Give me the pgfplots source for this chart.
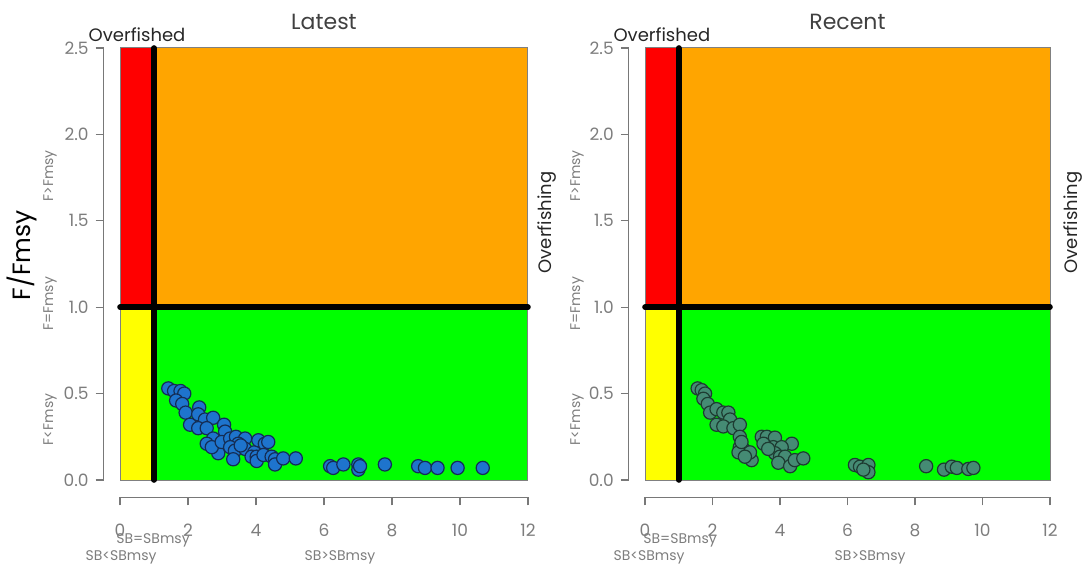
\documentclass[border=0pt]{standalone}
\usepackage{fontspec}
\setmainfont{Poppins}
\usepackage{pgfplots}
\pgfplotsset{compat=1.18}
\definecolor{kred}{RGB}{255,0,0}
\definecolor{korange}{RGB}{255,165,0}
\definecolor{kgreen}{RGB}{0,255,0}
\definecolor{kyellow}{RGB}{255,255,0}
\definecolor{ptblue}{RGB}{30,116,205}
\definecolor{ptblueedge}{RGB}{20,45,85}
\definecolor{ptteal}{RGB}{69,139,116}
\definecolor{pttealedge}{RGB}{30,60,50}
\definecolor{axgray}{RGB}{120,120,120}
\definecolor{labgray}{RGB}{125,125,125}

\pgfplotsset{kobe/.style={
  scale only axis, height=233.3pt,
  xmin=-0.48, xmax=12.48, ymin=-0.1, ymax=2.6,
  axis line style={draw=none},
  xtick={0,2,4,6,8,10,12}, ytick={0,0.5,1,1.5,2,2.5},
  xtick pos=bottom, ytick pos=left,
  tick align=outside, major tick length=4pt,
  tick style={axgray, line width=0.6pt},
  ticklabel style={font=\fontsize{8.5}{9}\selectfont, text=labgray},
  xticklabel style={yshift=-6pt},
  yticklabel style={/pgf/number format/.cd, fixed, fixed zerofill, precision=1},
  /pgf/number format/assume math mode=true,
  clip=false,
}}

\begin{document}
\begin{tikzpicture}
% ---------------- Latest ----------------
\begin{axis}[kobe, width=220.3pt, at={(51.85pt,33.85pt)}, anchor=south west]
\addplot[fill=kred, draw=none] coordinates {(0,1) (1,1) (1,2.5) (0,2.5)} -- cycle;
\addplot[fill=korange, draw=none] coordinates {(1,1) (12,1) (12,2.5) (1,2.5)} -- cycle;
\addplot[fill=kyellow, draw=none] coordinates {(0,0) (1,0) (1,1) (0,1)} -- cycle;
\addplot[fill=kgreen, draw=none] coordinates {(1,0) (12,0) (12,1) (1,1)} -- cycle;
\addplot[draw=gray, line width=0.5pt] coordinates {(0,0) (12,0) (12,2.5) (0,2.5)} -- cycle;
\addplot[black, line width=2.8pt, line cap=round] coordinates {(1,0) (1,2.5)};
\addplot[black, line width=2.8pt, line cap=round] coordinates {(0,1) (12,1)};
\addplot[only marks, mark=*, mark size=3.3pt, mark options={fill=ptblue, draw=ptblueedge, line width=0.6pt}] coordinates {
(1.42,0.53) (1.59,0.515) (1.78,0.515) (1.89,0.50) (1.65,0.46) (1.83,0.44) (1.93,0.39)
(2.33,0.42) (2.30,0.38) (2.50,0.35) (2.74,0.36) (2.06,0.32) (2.30,0.30) (2.55,0.30)
(3.06,0.32) (3.09,0.28) (2.74,0.24) (2.55,0.21) (2.89,0.19) (2.89,0.155) (2.70,0.19)
(2.99,0.22) (3.24,0.24) (3.41,0.25) (3.68,0.24) (3.48,0.21) (3.24,0.19) (3.38,0.17)
(3.33,0.12) (3.68,0.18) (3.55,0.20) (3.95,0.16) (4.07,0.23) (4.26,0.21) (4.36,0.22)
(3.87,0.135) (4.02,0.135) (4.02,0.11) (4.22,0.145) (4.46,0.135) (4.56,0.12) (4.56,0.09)
(4.80,0.125) (5.17,0.125) (6.18,0.08) (6.27,0.07) (6.57,0.09) (7.01,0.09) (7.01,0.06)
(7.06,0.08) (7.79,0.09) (8.77,0.08) (8.97,0.07) (9.34,0.07) (9.93,0.07) (10.67,0.07)
};
\draw[axgray, line width=0.6pt] (axis cs:0,-0.1) -- (axis cs:12,-0.1);
\draw[axgray, line width=0.6pt] (axis cs:-0.48,0) -- (axis cs:-0.48,2.5);
\node[anchor=base, font=\fontsize{11}{12}\selectfont, text=black!75] at (axis cs:6,2.604) {Latest};
\node[anchor=base, font=\fontsize{9}{10}\selectfont, text=black!85] at (axis cs:0.5,2.54) {Overfished};
\node[rotate=90, font=\fontsize{9}{10}\selectfont, text=black!85] at (axis cs:12.56,1.49) {Overfishing};
\node[rotate=90, font=\fontsize{12.5}{13}\selectfont, text=black] at (axis cs:-2.88,1.30) {F/Fmsy};
\node[rotate=90, font=\fontsize{7}{8}\selectfont, text=labgray] at (axis cs:-2.06,1.76) {F>Fmsy};
\node[rotate=90, font=\fontsize{7}{8}\selectfont, text=labgray] at (axis cs:-2.06,1.02) {F=Fmsy};
\node[rotate=90, font=\fontsize{7}{8}\selectfont, text=labgray] at (axis cs:-2.06,0.35) {F<Fmsy};
\node[font=\fontsize{7}{8}\selectfont, text=labgray] at (axis cs:0.97,-0.347) {SB=SBmsy};
\node[font=\fontsize{7}{8}\selectfont, text=labgray] at (axis cs:0.03,-0.446) {SB<SBmsy};
\node[font=\fontsize{7}{8}\selectfont, text=labgray] at (axis cs:6.47,-0.446) {SB>SBmsy};
\end{axis}
% ---------------- Recent ----------------
\begin{axis}[kobe, width=218.7pt, at={(314.4pt,33.85pt)}, anchor=south west]
\addplot[fill=kred, draw=none] coordinates {(0,1) (1,1) (1,2.5) (0,2.5)} -- cycle;
\addplot[fill=korange, draw=none] coordinates {(1,1) (12,1) (12,2.5) (1,2.5)} -- cycle;
\addplot[fill=kyellow, draw=none] coordinates {(0,0) (1,0) (1,1) (0,1)} -- cycle;
\addplot[fill=kgreen, draw=none] coordinates {(1,0) (12,0) (12,1) (1,1)} -- cycle;
\addplot[draw=gray, line width=0.5pt] coordinates {(0,0) (12,0) (12,2.5) (0,2.5)} -- cycle;
\addplot[black, line width=2.8pt, line cap=round] coordinates {(1,0) (1,2.5)};
\addplot[black, line width=2.8pt, line cap=round] coordinates {(0,1) (12,1)};
\addplot[only marks, mark=*, mark size=3.3pt, mark options={fill=ptteal, draw=pttealedge, line width=0.6pt}] coordinates {
(1.56,0.53) (1.68,0.52) (1.78,0.50) (1.73,0.47) (1.86,0.44) (1.93,0.39) (2.12,0.41)
(2.32,0.39) (2.47,0.39) (2.52,0.35) (2.12,0.32) (2.32,0.31) (2.62,0.30) (2.81,0.32)
(2.81,0.25) (2.81,0.19) (2.91,0.18) (3.01,0.145) (3.16,0.115) (3.11,0.16) (2.77,0.16)
(2.96,0.135) (2.86,0.22) (3.46,0.25) (3.61,0.25) (3.85,0.245) (4.35,0.21) (3.51,0.21)
(3.80,0.19) (4.05,0.19) (3.85,0.155) (4.00,0.135) (4.15,0.135) (3.95,0.10) (4.30,0.08)
(4.44,0.115) (4.69,0.125) (3.65,0.18) (6.22,0.087) (6.37,0.077) (6.62,0.087) (6.62,0.045)
(6.47,0.06) (8.33,0.08) (8.86,0.06) (9.09,0.077) (9.24,0.07) (9.58,0.064) (9.73,0.07)
};
\draw[axgray, line width=0.6pt] (axis cs:0,-0.1) -- (axis cs:12,-0.1);
\draw[axgray, line width=0.6pt] (axis cs:-0.48,0) -- (axis cs:-0.48,2.5);
\node[anchor=base, font=\fontsize{11}{12}\selectfont, text=black!75] at (axis cs:6,2.604) {Recent};
\node[anchor=base, font=\fontsize{9}{10}\selectfont, text=black!85] at (axis cs:0.5,2.54) {Overfished};
\node[rotate=90, font=\fontsize{9}{10}\selectfont, text=black!85] at (axis cs:12.68,1.49) {Overfishing};
\node[rotate=90, font=\fontsize{7}{8}\selectfont, text=labgray] at (axis cs:-2.01,1.76) {F>Fmsy};
\node[rotate=90, font=\fontsize{7}{8}\selectfont, text=labgray] at (axis cs:-2.01,1.02) {F=Fmsy};
\node[rotate=90, font=\fontsize{7}{8}\selectfont, text=labgray] at (axis cs:-2.01,0.35) {F<Fmsy};
\node[font=\fontsize{7}{8}\selectfont, text=labgray] at (axis cs:1.04,-0.347) {SB=SBmsy};
\node[font=\fontsize{7}{8}\selectfont, text=labgray] at (axis cs:0.12,-0.446) {SB<SBmsy};
\node[font=\fontsize{7}{8}\selectfont, text=labgray] at (axis cs:6.67,-0.446) {SB>SBmsy};
\end{axis}
\pgfresetboundingbox
\path[use as bounding box] (0,0) rectangle (542pt,282.5pt);
\end{tikzpicture}
\end{document}
